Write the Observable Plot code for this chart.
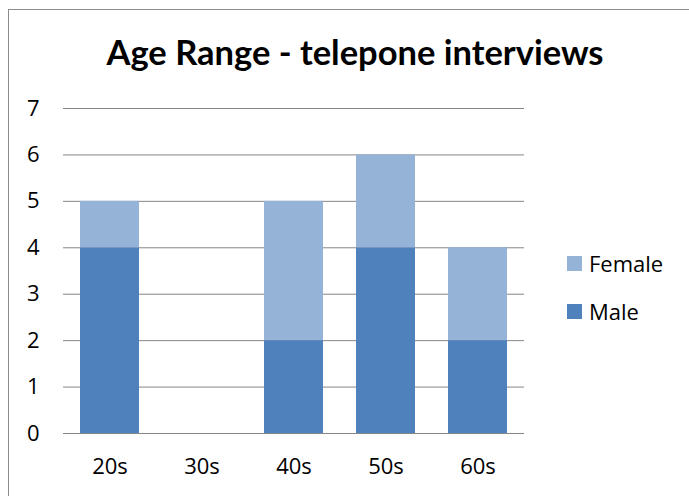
<!DOCTYPE html>
<html>
<head>
<meta charset="utf-8">
<script src="https://cdn.jsdelivr.net/npm/d3@7"></script>
<script src="https://cdn.jsdelivr.net/npm/@observablehq/plot@0.6"></script>
<style>
  html, body { margin: 0; padding: 0; background: #fff; }
  #wrap { position: relative; width: 689px; height: 496px; overflow: hidden; font-family: "Open Sans", sans-serif; }
  #frame { position: absolute; left: 8px; top: 9px; width: 700px; height: 520px; border: 1px solid #8c8c8c; box-sizing: border-box; }
  #title { position: absolute; left: 0; top: 31px; width: 710px; text-align: center; font-family: Lato, sans-serif; font-weight: bold; font-size: 34.5px; color: #000; }
  #chart { position: absolute; left: 0; top: 0; }
  .leg { position: absolute; left: 567px; font-size: 22px; color: #000; line-height: 22px; }
  .leg span.sw { display: inline-block; width: 15px; height: 15px; margin-right: 7px; vertical-align: 1px; }
</style>
</head>
<body>
<div id="wrap">
  <div id="frame"></div>
  <div id="chart"></div>
  <div id="title">Age Range - telepone interviews</div>
</div>
<script>
const ageRanges = ["20s", "30s", "40s", "50s", "60s"];
const maleValues = [4, 0, 2, 4, 2];
const femaleValues = [1, 0, 3, 2, 2];
const seriesNames = ["Male", "Female"];
const seriesColors = ["#4F81BD", "#95B3D7"];
const yTicks = [0, 1, 2, 3, 4, 5, 6, 7];

const rows = [];
ageRanges.forEach((a, i) => {
  rows.push({age: a, sex: "Male", value: maleValues[i]});
  rows.push({age: a, sex: "Female", value: femaleValues[i]});
});

const plot = Plot.plot({
  width: 689,
  height: 496,
  marginLeft: 63,
  marginRight: 165,
  marginTop: 108,
  marginBottom: 63,
  style: {fontFamily: "Open Sans, sans-serif", fontSize: "22px", color: "#000", background: "transparent"},
  x: {domain: ageRanges, paddingInner: 0.36, paddingOuter: 0.18, label: null},
  y: {domain: [0, 7], label: null},
  color: {domain: seriesNames, range: seriesColors},
  marks: [
    Plot.ruleY(yTicks.filter(d => d > 0), {stroke: "#868686", strokeWidth: 1}),
    Plot.barY(rows, Plot.stackY({x: "age", y: "value", fill: "sex", order: seriesNames})),
    Plot.ruleY([0], {stroke: "#868686", strokeWidth: 1}),
    Plot.ruleX([0], {x: () => 0, frameAnchor: "left", y1: 0, y2: 7, stroke: "#868686"}),
    Plot.axisY({ticks: yTicks, tickFormat: d3.format("d"), tickSize: 0, tickPadding: 24, fontSize: 22, label: null}),
    Plot.axisX({tickSize: 0, tickPadding: 25, fontSize: 22, label: null})
  ]
});
document.getElementById("chart").appendChild(plot);

// legend
const legendItems = [{name: "Female", color: seriesColors[1], top: 252}, {name: "Male", color: seriesColors[0], top: 300}];
legendItems.forEach(it => {
  const d = document.createElement("div");
  d.className = "leg";
  d.style.top = it.top + "px";
  d.innerHTML = `<span class="sw" style="background:${it.color}"></span>${it.name}`;
  document.getElementById("wrap").appendChild(d);
});
</script>
</body>
</html>
